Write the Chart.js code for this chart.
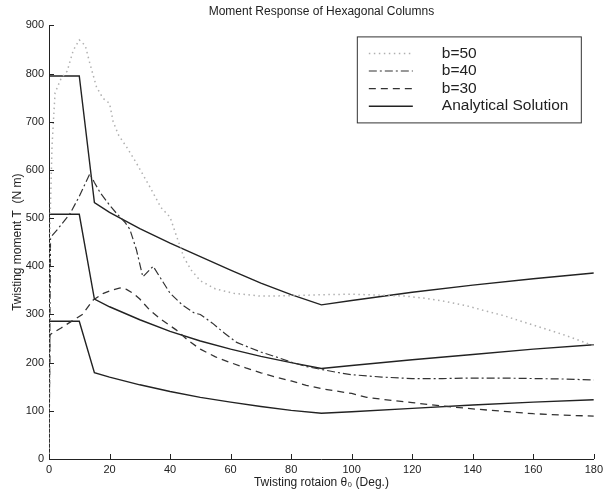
<!DOCTYPE html>
<html>
<head>
<meta charset="utf-8">
<script src="https://cdn.jsdelivr.net/npm/chart.js@4/dist/chart.umd.min.js"></script>
<style>
  html, body { margin: 0; padding: 0; background: #fff; }
  #wrap { width: 607px; height: 494px; position: relative; }
</style>
</head>
<body>
<div id="wrap"><canvas id="momentChart"></canvas></div>
<script>
(function () {
  "use strict";

  // FE results, one angle list per series (deg)
  var b50Deg = [0, 0.3, 1, 2, 4, 6, 8, 10, 12, 13.5, 15.7, 17.8, 20, 21.2, 23, 25.6, 28.9, 33.3, 37, 40, 42, 44.6, 47, 50, 55, 61, 70, 80, 90, 100, 110, 118, 125, 130, 138, 145, 150, 160, 170, 180];
  var b50Moment = [0, 480, 650, 760, 790, 805, 848, 870, 858, 821, 772, 749, 738, 700, 672, 648, 614, 565, 522, 502, 465, 418, 392, 370, 353, 344, 338, 339, 341, 342, 340, 338, 333, 328, 318, 306, 298, 278, 258, 235];

  var b40Deg = [0, 0.5, 3, 7, 10, 13.5, 15, 17, 20, 22.3, 25, 26.7, 28.9, 31, 34.4, 36.6, 40, 44, 48, 50, 54, 58, 62, 66, 70, 75, 80, 85, 90, 95, 100, 110, 120, 130, 140, 150, 160, 170, 180];
  var b40Moment = [0, 460, 478, 510, 545, 592, 574, 552, 527, 510, 492, 477, 434, 378, 400, 378, 344, 320, 303, 300, 282, 261, 242, 232, 222, 212, 201, 192, 186, 180, 175, 170, 167, 167, 168, 168, 167, 166, 164];

  var b30Deg = [0, 0.3, 4, 8, 11, 14.6, 18, 21.1, 23.5, 25.6, 28, 30, 33.3, 37, 42, 46, 50, 55, 60, 65, 70, 75, 80, 85, 90, 95, 100, 105, 110, 120, 130, 140, 150, 160, 170, 180];
  var b30Moment = [0, 258, 272, 288, 300, 330, 344, 351, 355, 352, 343, 332, 309, 290, 268, 246, 228, 212, 200, 189, 179, 170, 162, 153, 146, 141, 136, 128, 124, 117, 110, 104, 99, 94, 91, 89];

  // analytical solution, shared angle list
  var theoryDeg = [0, 10, 15, 20, 30, 40, 50, 60, 70, 80, 90, 100, 120, 140, 160, 180];
  var theoryB50 = [795, 795, 532, 512, 478, 448, 420, 392, 365, 341, 320, 329, 346, 361, 374, 386];
  var theoryB40 = [508, 508, 332, 316, 289, 265, 245, 228, 213, 200, 188, 194, 206, 217, 228, 237];
  var theoryB30 = [286, 286, 179, 170, 154, 140, 128, 118, 109, 101, 95, 98, 105, 112, 118, 123];

  var xTicks = [0, 20, 40, 60, 80, 100, 120, 140, 160, 180];
  var yTicks = [0, 100, 200, 300, 400, 500, 600, 700, 800, 900];

  var FONT = "'Liberation Sans', Arial, Helvetica, sans-serif";
  var INK = "#222";

  function pairs(xs, ys) {
    return xs.map(function (x, i) { return { x: x, y: ys[i] }; });
  }

  function series(label, xs, ys, color, width, dash, inLegend) {
    return {
      label: label,
      data: pairs(xs, ys),
      borderColor: color,
      borderWidth: width,
      borderDash: dash,
      pointRadius: 0,
      tension: 0,
      fill: false,
      inLegend: inLegend
    };
  }

  // boxed legend inside the plot, top right
  var boxLegend = {
    id: "boxLegend",
    afterDraw: function (chart) {
      var ctx = chart.ctx, area = chart.chartArea;
      var left = area.right - 237, top = area.top + 11, w = 224, h = 86;
      ctx.save();
      ctx.fillStyle = "#fff";
      ctx.fillRect(left, top, w, h);
      ctx.strokeStyle = "#333";
      ctx.lineWidth = 1;
      ctx.strokeRect(left + 0.5, top + 0.5, w, h);
      ctx.font = "15.5px " + FONT;
      ctx.textBaseline = "middle";
      ctx.fillStyle = INK;
      var row = 0;
      chart.data.datasets.forEach(function (ds) {
        if (!ds.inLegend) return;
        var y = top + 17 + row * 17.6;
        ctx.beginPath();
        ctx.setLineDash(ds.borderDash || []);
        ctx.strokeStyle = ds.borderColor;
        ctx.lineWidth = ds.borderWidth;
        ctx.moveTo(left + 12, y);
        ctx.lineTo(left + 56, y);
        ctx.stroke();
        ctx.setLineDash([]);
        ctx.fillText(ds.label, left + 85, y);
        row++;
      });
      ctx.restore();
    }
  };

  // short tick marks pointing into the plot
  var innerTicks = {
    id: "innerTicks",
    afterDraw: function (chart) {
      var ctx = chart.ctx, area = chart.chartArea;
      var xs = chart.scales.x, ys = chart.scales.y;
      ctx.save();
      ctx.strokeStyle = INK;
      ctx.lineWidth = 1;
      ctx.beginPath();
      xTicks.forEach(function (v) {
        var px = Math.round(xs.getPixelForValue(v)) + 0.5;
        ctx.moveTo(px, area.bottom);
        ctx.lineTo(px, area.bottom - 5);
      });
      yTicks.forEach(function (v) {
        var py = Math.round(ys.getPixelForValue(v)) + 0.5;
        ctx.moveTo(area.left, py);
        ctx.lineTo(area.left + 5, py);
      });
      ctx.stroke();
      ctx.restore();
    }
  };

  new Chart(document.getElementById("momentChart").getContext("2d"), {
    type: "line",
    data: {
      datasets: [
        series("b=50", b50Deg, b50Moment, "#b0b0b0", 1.5, [1.5, 3.5], true),
        series("b=40", b40Deg, b40Moment, "#333", 1.2, [8, 3, 2, 3], true),
        series("b=30", b30Deg, b30Moment, "#333", 1.3, [7, 5], true),
        series("Analytical Solution", theoryDeg, theoryB50, "#222", 1.4, [], true),
        series("Analytical Solution", theoryDeg, theoryB40, "#222", 1.4, [], false),
        series("Analytical Solution", theoryDeg, theoryB30, "#222", 1.4, [], false)
      ]
    },
    options: {
      responsive: true,
      maintainAspectRatio: false,
      animation: false,
      layout: { padding: { left: 0, right: 12, top: 0, bottom: 0 } },
      plugins: {
        legend: { display: false },
        tooltip: { enabled: false },
        title: {
          display: true,
          fullSize: false,
          text: "Moment Response of Hexagonal Columns",
          color: INK,
          font: { family: FONT, size: 12, weight: "normal" },
          padding: { top: 4, bottom: 7 }
        }
      },
      scales: {
        x: {
          type: "linear",
          min: 0,
          max: 180,
          afterFit: function (s) { s.height = 35; },
          afterBuildTicks: function (s) { s.ticks = xTicks.map(function (v) { return { value: v }; }); },
          ticks: { color: INK, padding: 4, font: { family: FONT, size: 11 }, maxRotation: 0 },
          grid: { display: true, drawOnChartArea: false, drawTicks: false },
          border: { display: true, color: INK, width: 1 },
          title: {
            display: true,
            text: "Twisting rotaion \u03b8\u2080 (Deg.)",
            color: INK,
            font: { family: FONT, size: 12 },
            padding: { top: 0, bottom: 4 }
          }
        },
        y: {
          min: 0,
          max: 900,
          afterFit: function (s) { s.width = 49; },
          afterBuildTicks: function (s) { s.ticks = yTicks.map(function (v) { return { value: v }; }); },
          ticks: { color: INK, padding: 5, font: { family: FONT, size: 11 } },
          grid: { display: true, drawOnChartArea: false, drawTicks: false },
          border: { display: true, color: INK, width: 1 },
          title: {
            display: true,
            text: "Twisting moment T  (N m)",
            color: INK,
            font: { family: FONT, size: 12 },
            padding: { top: 10, bottom: 0 }
          }
        }
      }
    },
    plugins: [innerTicks, boxLegend]
  });
})();
</script>
</body>
</html>
